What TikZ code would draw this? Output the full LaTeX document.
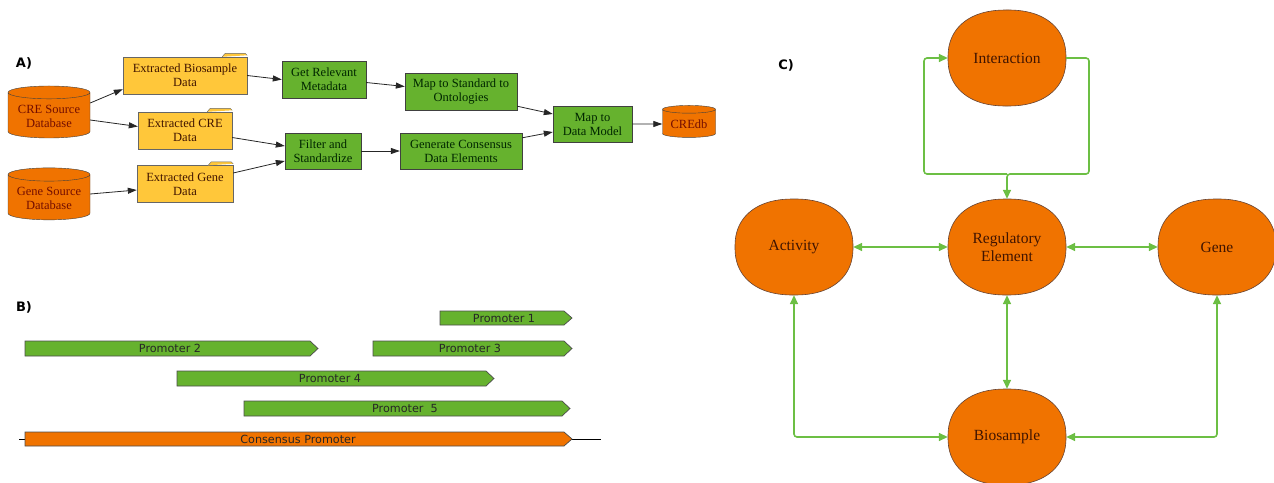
\documentclass[tikz,border=0pt]{standalone}
\usepackage{fontspec}
\setmainfont{Liberation Serif}
\setsansfont{DejaVu Sans}
\usepackage{tikz}
\usetikzlibrary{shapes.geometric,arrows.meta,positioning}
\definecolor{creorange}{HTML}{F07300}
\definecolor{cregreen}{HTML}{66B22E}
\definecolor{creyellow}{HTML}{FFC73A}
\definecolor{linkgreen}{HTML}{6CBF44}
\definecolor{darkred}{rgb}{0.45,0.05,0}
\definecolor{darkbrown}{rgb}{0.25,0.08,0}

\begin{document}
\begin{tikzpicture}[x=1pt,y=-1pt,
    db/.style={cylinder,shape border rotate=90,aspect=0.2,draw=black!75,fill=creorange,text=darkred,align=center,inner sep=1pt,font=\fontsize{12.5}{14}\selectfont},
    folder/.style={rectangle,draw=black!60,fill=creyellow,text=darkbrown,align=center,inner sep=1pt,minimum height=37pt,font=\fontsize{12.5}{14}\selectfont},
    tab/.style={draw=black!60,fill=creyellow},
    step box/.style={rectangle,draw=black!75,fill=cregreen,text=black!85!green,align=center,inner sep=1pt,minimum height=37pt,font=\fontsize{12.5}{14}\selectfont},
    flow/.style={black!85,line width=0.8pt,-{Triangle[length=9pt,width=6pt]}},
    bar/.style={draw=black!70,line width=0.7pt},
    barlabel/.style={font=\sffamily\fontsize{11.2}{12}\selectfont,text=black!85},
    blob/.style={draw=darkbrown!80,fill=creorange,line width=0.6pt},
    entity/.style={ellipse,inner sep=0pt,text=darkbrown,align=center,minimum width=118pt,minimum height=96pt,font=\fontsize{15.5}{18}\selectfont},
    link/.style={linkgreen,line width=1.6pt,rounded corners=3pt,arrows={-Triangle[length=9pt,width=8pt]}},
    both/.style={arrows={Triangle[length=9pt,width=8pt]-Triangle[length=9pt,width=8pt]}},
    panel/.style={font=\sffamily\bfseries\fontsize{13}{13}\selectfont}]
  \useasboundingbox (0,0) rectangle (1274,482);

  % ---------------- A) data flow
  \node[panel] (labA) at (24,63) {A)};
  \node[db,minimum width=82pt,minimum height=52pt] (cresrc) at (49,116) {CRE Source\\Database};
  \node[db,minimum width=82pt,minimum height=52pt] (genesrc) at (49,198) {Gene Source\\Database};
  \node[db,minimum width=53pt,minimum height=32pt] (credb) at (689,124) {CREdb};

  \node[folder,minimum width=124pt] (bioex) at (185,75.5) {Extracted Biosample\\Data};
  \node[folder,minimum width=94pt] (creex) at (185,130.5) {Extracted CRE\\Data};
  \node[folder,minimum width=96pt] (geneex) at (185,184) {Extracted Gene\\Data};
  % folder tabs
  \draw[tab] ([xshift=-25pt]bioex.north east) -- ([xshift=-22pt,yshift=3.5pt]bioex.north east) -- ([xshift=-2pt,yshift=3.5pt]bioex.north east) -- ([yshift=1.5pt]bioex.north east);
  \draw[tab] ([xshift=-25pt]creex.north east) -- ([xshift=-22pt,yshift=3.5pt]creex.north east) -- ([xshift=-2pt,yshift=3.5pt]creex.north east) -- ([yshift=1.5pt]creex.north east);
  \draw[tab] ([xshift=-25pt]geneex.north east) -- ([xshift=-22pt,yshift=3.5pt]geneex.north east) -- ([xshift=-2pt,yshift=3.5pt]geneex.north east) -- ([yshift=1.5pt]geneex.north east);

  \node[step box,minimum width=84pt] (meta) at (324,79.5) {Get Relevant\\Metadata};
  \node[step box,minimum width=76pt,minimum height=36pt] (filt) at (323,151) {Filter and\\Standardize};
  \node[step box,minimum width=112pt] (onto) at (461,91.5) {Map to Standard to\\Ontologies};
  \node[step box,minimum width=122pt,minimum height=36pt] (consens) at (461,151) {Generate Consensus\\Data Elements};
  \node[step box,minimum width=79pt,minimum height=36pt] (model) at (592.5,124) {Map to\\Data Model};

  \draw[flow] ([yshift=13pt]cresrc.east) -- ([yshift=5pt]bioex.south west);
  \draw[flow] ([yshift=-4pt]cresrc.east) -- ([yshift=4pt]creex.west);
  \draw[flow] ([yshift=4pt]genesrc.east) -- ([yshift=-6pt]geneex.west);
  \draw[flow] (bioex.east) -- (meta.west);
  \draw[flow] ([yshift=-7pt]creex.east) -- ([yshift=5pt]filt.west);
  \draw[flow] ([yshift=11pt]geneex.east) -- ([yshift=-10pt]filt.west);
  \draw[flow] ([yshift=-3pt]meta.east) -- ([yshift=5pt]onto.west);
  \draw[flow] (filt.east) -- (consens.west);
  \draw[flow] ([yshift=4pt]onto.south east) -- ([yshift=10pt]model.west);
  \draw[flow] ([yshift=-5pt]consens.north east) -- ([yshift=-8pt]model.west);
  \draw[flow] (model.east) -- (credb.west);

  % ---------------- B) promoters
  \node[panel] (labB) at (24,307) {B)};
  \draw[black,line width=0.8pt] (19,439) -- (601,439);
  \draw[bar,fill=cregreen] (440,311) -- (564,311) -- (572,318) -- (564,325) -- (440,325) -- cycle;
  \node[barlabel] (prom1) at (504,318) {Promoter 1};
  \draw[bar,fill=cregreen] (25,341) -- (310,341) -- (318,348.5) -- (310,356) -- (25,356) -- cycle;
  \node[barlabel] (prom2) at (170,348.5) {Promoter 2};
  \draw[bar,fill=cregreen] (373,341) -- (564,341) -- (572,348.5) -- (564,356) -- (373,356) -- cycle;
  \node[barlabel] (prom3) at (470,348.5) {Promoter 3};
  \draw[bar,fill=cregreen] (177,371) -- (486,371) -- (494,378.5) -- (486,386) -- (177,386) -- cycle;
  \node[barlabel] (prom4) at (330,378.5) {Promoter 4};
  \draw[bar,fill=cregreen] (244,401) -- (562,401) -- (570,408.5) -- (562,416) -- (244,416) -- cycle;
  \node[barlabel] (prom5) at (405,408.5) {Promoter~ 5};
  \draw[bar,fill=creorange] (25,432) -- (564,432) -- (572,439) -- (564,446) -- (25,446) -- cycle;
  \node[barlabel] (consprom) at (298,439) {Consensus Promoter};

  % ---------------- C) data model
  \node[panel] (labC) at (786,65) {C)};
  % rounded blobs behind the entity nodes
  \foreach \cx/\cy in {1007/58, 1007/247, 794/247, 1217/247, 1007/437}
    \draw[blob,shift={(\cx,\cy)}] plot[domain=1:361,samples=121,smooth]
      ({59*sign(cos(\x))*abs(cos(\x))^0.87},{48*sign(sin(\x))*abs(sin(\x))^0.87}) -- cycle;
  \node[entity] (inter) at (1007,58) {Interaction};
  \node[entity] (reg) at (1007,247) {Regulatory\\Element};
  \node[entity] (act) at (794,247) {Activity};
  \node[entity] (gene) at (1217,247) {Gene};
  \node[entity] (bios) at (1007,437) {Biosample};

  \coordinate (junc) at (1007,174);
  \coordinate (loopR) at (1089,174);
  \coordinate (loopL) at (924,174);
  \draw[link] (inter.east) -| (loopR) -- (junc) -- (reg.north);
  \draw[link] (junc) -- (loopL) |- (inter.west);
  \draw[link,both] (act.east) -- (reg.west);
  \draw[link,both] (reg.east) -- (gene.west);
  \draw[link,both] (reg.south) -- (bios.north);
  \draw[link,both] (act.south) |- (bios.west);
  \draw[link,both] (gene.south) |- (bios.east);
\end{tikzpicture}
\end{document}
